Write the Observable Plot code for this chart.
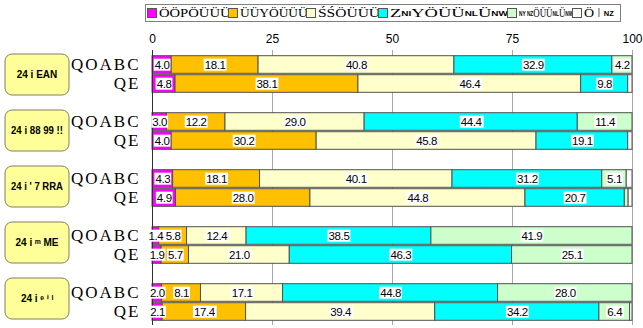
<!DOCTYPE html>
<html><head><meta charset="utf-8">
<script src="https://cdn.jsdelivr.net/npm/d3@7"></script>
<script src="https://cdn.jsdelivr.net/npm/@observablehq/plot@0.6"></script>
<style>
body{margin:0;background:#fff;font-family:"Liberation Sans",sans-serif;}
#wrap{position:relative;width:643px;height:328px;overflow:hidden;}
#legend{position:absolute;left:145px;top:4px;width:474px;height:16px;border:1px solid #808080;background:#fff;}
.li{position:absolute;top:0;height:16px;line-height:16px;font-family:"Liberation Serif",serif;font-size:13px;white-space:nowrap;color:#000;transform-origin:left center;}
.li small{font-size:7px;font-family:"Liberation Sans",sans-serif;font-weight:bold;vertical-align:middle;}
.sw{position:absolute;top:3px;width:8px;height:8px;border:1px solid #555;}
#chart{position:absolute;left:0;top:24px;}
</style></head><body>
<div id="wrap"><div id="legend"></div><div id="chart"></div></div>
<script>
// ---- data ----
const groups = ["24 i EAN", "24 i 88 99 !!", "24 i ' 7 RRA", "24 i ᵐ ME", "24 i ᵉ ⁱ ˡ"];
const rowNames = ["QOABC", "QE"];
const seriesNames = ["ÖÖPÖÜÜÜ", "ÜÜYÖÜÜÜ", "ŚŚÖÜÜÜ", "Z NI YÖÜÜ NL Ü NW", "NY NZ ÖÜÜ NL Ü NW", "Ö ǀ NZ"];
const seriesColors = ["#ff00ff", "#ffc000", "#ffffcc", "#00ffff", "#ccffcc", "#ffffff"];
// one array per series, rows in order: G1 QOABC, G1 QE, G2 QOABC, ...
const s1 = [4.0, 4.8, 3.0, 4.0, 4.3, 4.9, 1.4, 1.9, 2.0, 2.1];
const s2 = [18.1, 38.1, 12.2, 30.2, 18.1, 28.0, 5.8, 5.7, 8.1, 17.4];
const s3 = [40.8, 46.4, 29.0, 45.8, 40.1, 44.8, 12.4, 21.0, 17.1, 39.4];
const s4 = [32.9, 9.8, 44.4, 19.1, 31.2, 20.7, 38.5, 46.3, 44.8, 34.2];
const s5 = [4.2, 0, 11.4, 0, 5.1, 0.8, 41.9, 25.1, 28.0, 6.4];
const s6 = [0, 0.9, 0, 0.9, 1.2, 0.8, 0, 0, 0, 0.5];
const xTicks = [0, 25, 50, 75, 100];

// ---- legend ----
const legendHTML = [
  "ÖÖPÖÜÜÜ", "ÜÜYÖÜÜÜ", "ŚŚÖÜÜÜ",
  "Z<small>NI</small>YÖÜÜ<small>NL</small>Ü<small>NW</small>",
  "<small>NY NZ</small>ÖÜÜ<small>NL</small>Ü<small>NW</small>",
  "Ö ǀ <small>NZ</small>"
];
const legendX = [1, 82, 160, 232, 361, 426];
const legendW = [72, 68, 62, 118, 54, 30];
const leg = document.getElementById("legend");
seriesNames.forEach((n, i) => {
  const sw = document.createElement("div");
  sw.className = "sw"; sw.style.left = legendX[i] + "px"; sw.style.background = seriesColors[i];
  leg.appendChild(sw);
  const t = document.createElement("div");
  t.className = "li"; t.style.left = (legendX[i] + 12) + "px"; t.innerHTML = legendHTML[i];
  t.setAttribute("title", n);
  leg.appendChild(t);
  const w = t.scrollWidth;
  if (w > 0) t.style.transform = `scaleX(${legendW[i] / w})`;
});

// ---- table ----
const seriesValues = [s1, s2, s3, s4, s5, s6];
const data = [];
for (let r = 0; r < s1.length; r++) {
  const key = `${Math.floor(r / 2)}|${rowNames[r % 2]}`;
  seriesValues.forEach((vals, i) => {
    if (vals[r] > 0) data.push({key, series: seriesNames[i], si: i, value: vals[r]});
  });
}
const yDomain = [];
groups.forEach((g, i) => {
  yDomain.push(`${i}|${rowNames[0]}`, `${i}|${rowNames[1]}`);
  if (i < groups.length - 1) yDomain.push(`${i}|gap`);
});
const realKeys = yDomain.filter(k => !k.endsWith("gap"));
const fmt = d3.format(".1f");

const plot = Plot.plot({
  width: 643, height: 304,
  marginLeft: 152, marginRight: 11, marginTop: 26, marginBottom: 3,
  style: {fontFamily: "Liberation Sans, sans-serif", fontSize: "12px", background: "#fff"},
  x: {domain: [0, 100]},
  y: {domain: yDomain, padding: 0},
  color: {domain: seriesNames, range: seriesColors},
  marks: [
    Plot.gridX(xTicks.slice(1), {stroke: "#a8a8a8", strokeOpacity: 1}),
    Plot.barX(data, {x: "value", y: "key", fill: "series", stroke: "#505050", strokeWidth: 1, insetTop: 0.7, insetBottom: 0.7}),
    Plot.ruleX([0], {stroke: "#303030"}),
    Plot.text(data, Plot.stackX({x: "value", y: "key", z: "series",
      text: d => (d.value >= 1 && d.si < 5) ? fmt(d.value) : "", fill: "#000", fontSize: 11.5})),
    Plot.axisX({anchor: "top", ticks: xTicks, tickSize: 0, tickPadding: 8, label: null}),
    Plot.axisY({ticks: realKeys, tickFormat: k => k.split("|")[1], tickSize: 0, tickPadding: 12, label: null})
  ]
});
document.getElementById("chart").appendChild(plot);

const svg = d3.select(plot);
// white boxes behind value labels
svg.selectAll('g[aria-label="text"] text').each(function () {
  if (!this.textContent) return;
  this.setAttribute("letter-spacing", "-0.4");
  const b = this.getBBox();
  const r = document.createElementNS("http://www.w3.org/2000/svg", "rect");
  r.setAttribute("x", b.x - 1); r.setAttribute("y", b.y);
  r.setAttribute("width", b.width + 2); r.setAttribute("height", b.height);
  r.setAttribute("fill", "#fff");
  const tr = this.getAttribute("transform"); if (tr) r.setAttribute("transform", tr);
  this.parentNode.insertBefore(r, this);
});
// row labels
svg.selectAll('g[aria-label="y-axis tick label"] text')
  .attr("font-family", "Liberation Serif, serif").attr("font-size", 17).attr("letter-spacing", 2);

// group label boxes
const gl = svg.append("g");
groups.forEach((g, i) => {
  const top = 30 + 56 * i;
  gl.append("rect").attr("x", 5).attr("y", top).attr("width", 64).attr("height", 41).attr("rx", 7)
    .attr("fill", "#ffff99").attr("stroke", "#808060").attr("stroke-width", 1);
  const t = gl.append("text").attr("x", 37).attr("y", top + 20.5).attr("text-anchor", "middle")
    .attr("dominant-baseline", "central").attr("font-size", 10).attr("font-weight", "bold")
    .attr("font-family", "Liberation Sans, sans-serif").text(g);
  const w = t.node().getComputedTextLength();
  if (w > 52) t.attr("textLength", 52).attr("lengthAdjust", "spacingAndGlyphs");
});
</script></body></html>
